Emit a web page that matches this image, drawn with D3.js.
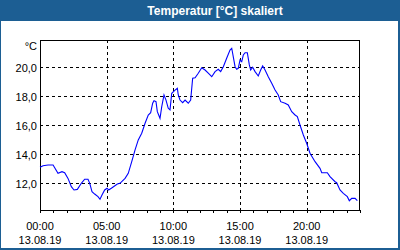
<!DOCTYPE html>
<html>
<head>
<meta charset="utf-8">
<script src="https://cdn.jsdelivr.net/npm/d3@7"></script>
<style>
  html, body { margin: 0; padding: 0; background: #fff; }
  svg { display: block; }
  text { font-family: "Liberation Sans", Arial, sans-serif; fill: #000; }
  .grid line { stroke: #000; stroke-dasharray: 3,3; shape-rendering: crispEdges; }
  .frame { fill: none; stroke: #000; shape-rendering: crispEdges; }
</style>
</head>
<body>
<svg id="chart" width="400" height="250"></svg>
<script>
// Chart data
const title = "Temperatur [°C] skaliert";
const unitLabel = "°C";
const dateLabel = "13.08.19";
const xTicks = [0, 5, 10, 15, 20];
const yTicks = [12, 14, 16, 18, 20];

// hours since 00:00 on 13.08.19
const hours = [
  0, 0.23, 0.6, 0.98, 1.35, 1.65, 1.85, 2.1, 2.35, 2.55, 2.8, 3.1, 3.35, 3.6, 3.73,
  3.9, 4.1, 4.35, 4.5, 4.65, 4.85, 5.03, 5.15, 5.35, 5.8, 6.0, 6.38, 6.62, 6.88,
  7.13, 7.37, 7.63, 7.88, 8.12, 8.3, 8.45, 8.55, 8.7, 8.8, 9.0, 9.13, 9.3, 9.45,
  9.62, 9.75, 9.88, 10.13, 10.3, 10.37, 10.5, 10.7, 10.88, 11.12, 11.3, 11.45,
  11.63, 11.87, 12.13, 12.38, 12.62, 12.88, 13.13, 13.37, 13.55, 13.75, 14.0,
  14.25, 14.38, 14.63, 14.75, 14.87, 15.0, 15.13, 15.25, 15.38, 15.55, 15.7, 15.8,
  15.95, 16.13, 16.37, 16.55, 16.7, 16.88, 17.12, 17.38, 17.63, 17.87, 18.05,
  18.38, 18.62, 18.88, 19.13, 19.3, 19.5, 19.75, 20.0, 20.25, 20.63, 21.0, 21.13,
  21.55, 21.75, 22.13, 22.25, 22.5, 22.75, 23.05, 23.2, 23.38, 23.63, 23.8
];
const temps = [
  13.10, 13.21, 13.26, 13.26, 12.69, 12.80, 12.73, 12.34, 11.77, 11.54, 11.58, 12.00,
  12.28, 12.28, 12.00, 11.42, 11.26, 11.08, 10.90, 11.19, 11.54, 11.66, 11.54, 11.66,
  11.95, 12.00, 12.34, 12.69, 13.49, 14.30, 14.99, 15.45, 16.14, 16.71, 16.87, 17.52,
  17.70, 17.63, 16.94, 16.48, 17.28, 18.09, 17.74, 17.17, 17.06, 18.21, 18.43, 18.55,
  18.09, 17.74, 17.56, 17.74, 17.52, 17.74, 19.24, 19.28, 19.59, 19.97, 19.81, 19.59,
  19.35, 19.70, 19.86, 19.70, 20.04, 20.62, 21.19, 21.31, 20.04, 19.86, 19.93, 20.50,
  20.39, 20.85, 21.00, 21.00, 20.16, 19.81, 20.00, 19.70, 19.40, 19.81, 20.09, 19.81,
  19.35, 18.90, 18.43, 18.09, 17.63, 17.52, 17.40, 16.94, 16.71, 16.60, 16.02, 15.33,
  14.76, 14.07, 13.49, 13.03, 12.73, 12.73, 12.46, 12.11, 12.04, 11.54, 11.31, 11.08,
  10.80, 10.96, 10.96, 10.80
];

const svg = d3.select('#chart');
const blue = '#1c5e93';

// Panel frame and title bar
svg.append('rect').attr('x', 0).attr('y', 0).attr('width', 400).attr('height', 250).attr('fill', blue);
svg.append('rect').attr('x', 1).attr('y', 21).attr('width', 397).attr('height', 227).attr('fill', '#fff');
svg.append('text')
  .attr('x', 215).attr('y', 14.5)
  .attr('text-anchor', 'middle')
  .style('fill', '#fff')
  .style('font-weight', 'bold')
  .style('font-size', '12px')
  .text(title);

// Plot area
const plotLeft = 40, plotRight = 360, plotTop = 40, plotBottom = 210;
const x = d3.scaleLinear().domain([0, 24]).range([plotLeft, plotRight]);
const y = d3.scaleLinear().domain([10.16, 21.88]).range([plotBottom, plotTop]);

const de = d3.formatLocale({ decimal: ',', thousands: '.', grouping: [3], currency: ['', '€'] });
const fmt = de.format('.1f');

// Grid
const grid = svg.append('g').attr('class', 'grid');
grid.selectAll('.h').data(yTicks).enter().append('line')
  .attr('x1', plotLeft).attr('x2', plotRight)
  .attr('y1', d => Math.round(y(d)) + 0.5).attr('y2', d => Math.round(y(d)) + 0.5);
grid.selectAll('.v').data(xTicks.filter(d => d > 0)).enter().append('line')
  .attr('y1', plotTop).attr('y2', plotBottom)
  .attr('x1', d => Math.round(x(d)) + 0.5).attr('x2', d => Math.round(x(d)) + 0.5);

// Hourly ticks along the bottom
const xAxis = d3.axisBottom(x).tickValues(d3.range(0, 25)).tickSize(3).tickSizeOuter(0).tickFormat('');
const gx = svg.append('g').attr('transform', `translate(0,${plotBottom})`).call(xAxis);
gx.select('.domain').remove();
gx.selectAll('line').attr('stroke', '#000').style('shape-rendering', 'crispEdges');

// Y labels
const yAxis = d3.axisLeft(y).tickValues(yTicks).tickSize(0).tickPadding(3).tickFormat(fmt);
const gy = svg.append('g').attr('transform', `translate(${plotLeft},0)`).call(yAxis);
gy.select('.domain').remove();
gy.selectAll('text').attr('dy', null).attr('y', 4).style('font-size', '11px')
  .style('font-family', '"Liberation Sans", Arial, sans-serif');

svg.append('text').attr('x', 37).attr('y', 49.5).attr('text-anchor', 'end')
  .style('font-size', '11px').text(unitLabel);

// X labels (time and date)
const xl = svg.append('g').selectAll('g').data(xTicks).enter().append('g')
  .attr('transform', d => `translate(${x(d)},0)`);
xl.append('text').attr('y', 229.5).attr('text-anchor', 'middle').style('font-size', '11px')
  .text(d => String(d).padStart(2, '0') + ':00');
xl.append('text').attr('y', 243.5).attr('text-anchor', 'middle').style('font-size', '11px')
  .text(dateLabel);

// Frame
svg.append('rect').attr('class', 'frame')
  .attr('x', plotLeft + 0.5).attr('y', plotTop + 0.5)
  .attr('width', plotRight - plotLeft - 1).attr('height', plotBottom - plotTop);

// Temperature line
const line = d3.line().x((d, i) => x(hours[i])).y(d => y(d));
svg.append('path')
  .datum(temps)
  .attr('fill', 'none')
  .attr('stroke', '#0000ff')
  .attr('stroke-width', 1.1)
  .attr('d', line);
</script>
</body>
</html>
